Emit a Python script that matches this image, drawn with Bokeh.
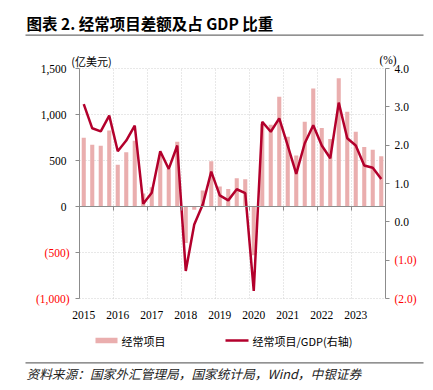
from bokeh.plotting import figure
from bokeh.models import (Range1d, LinearAxis, FixedTicker, Label,
                          NumeralTickFormatter, ColumnDataSource)
from bokeh.embed import file_html
from bokeh.resources import INLINE

# ---------------- data ----------------
years = ["2015", "2016", "2017", "2018", "2019", "2020", "2021", "2022", "2023"]
quarters_per_year = 4
# current account balance, 100 million USD (quarterly, 2015Q1 - 2023Q4)
current_account = [748, 672, 661, 827, 455, 589, 715, 140,
                   210, 560, 410, 704, -397, -36, 173, 491,
                   217, 191, 307, 296, -531, 900, 888, 1192,
                   758, 553, 921, 1282, 852, 733, 1394, 1029,
                   812, 647, 618, 545]
# current account / GDP, % (right axis)
ca_to_gdp = [3.07, 2.44, 2.36, 2.77, 1.84, 2.12, 2.51, 0.47,
             0.76, 1.84, 1.38, 1.99, -1.28, -0.07, 0.45, 1.31,
             0.69, 0.56, 0.85, 0.75, -1.80, 2.61, 2.35, 2.70,
             1.99, 1.25, 2.05, 2.52, 1.99, 1.66, 3.11, 2.18,
             1.99, 1.47, 1.41, 1.12]
left_ticks = [-1000, -500, 0, 500, 1000, 1500]
right_ticks = [-2.0, -1.0, 0.0, 1.0, 2.0, 3.0, 4.0]

title_text = "图表 2. 经常项目差额及占 GDP 比重"
left_unit = "(亿美元)"
right_unit = "(%)"
bar_name = "经常项目"
line_name = "经常项目/GDP(右轴)"
source_text = "资料来源：国家外汇管理局，国家统计局，Wind，中银证券"

# ---------------- layout (page pixels) ----------------
W, H = 433, 390
FL, FR, FT, FB = 79, 385, 68, 298        # plot-area edges
n = len(current_account)
XA, XB = -0.5, n - 0.5                  # data x at FL / FR
YA, YB = left_ticks[0], left_ticks[-1]  # data y at FB / FT
RA, RB = right_ticks[0], right_ticks[-1]
kx = (FR - FL) / (XB - XA)
ky = (FB - FT) / (YB - YA)
kr = (FB - FT) / (RB - RA)

def X(px):
    return XA + (px - FL) / kx

def Y(py):
    return YB - (py - FT) / ky

BAR = "#EAAEAE"
LINE = "#B3002C"
AXIS = "#8C8C8C"
GRID = "#D0D0D0"
RULE = "#6E6E6E"
RED = "#FF0000"
SERIF = "Liberation Serif"
CJK = "Noto Sans CJK SC"
TICK_FS = "11.5px"

x = list(range(n))
src = ColumnDataSource(dict(x=x, ca=current_account, gdp=ca_to_gdp))

p = figure(width=W, height=H, output_backend="svg", toolbar_location=None,
           x_axis_type=None, y_axis_type=None,
           x_range=Range1d(X(0), X(W)), y_range=Range1d(Y(H), Y(0)),
           min_border=0)
p.min_border_left = p.min_border_right = p.min_border_top = p.min_border_bottom = 0
p.outline_line_color = None
p.background_fill_color = "white"
p.border_fill_color = "white"
p.extra_y_ranges = {"r": Range1d(RA - (H - FB) / kr, RB + FT / kr)}

# dotted grid lines (inside the plot area only)
boundaries = [i * quarters_per_year - 0.5 for i in range(1, len(years))]
p.segment(x0=[XA] * len(left_ticks), x1=[XB] * len(left_ticks), y0=left_ticks, y1=left_ticks,
          line_color=GRID, line_dash="1 2", line_width=1)
p.segment(x0=boundaries, x1=boundaries, y0=[YA] * len(boundaries), y1=[YB] * len(boundaries),
          line_color=GRID, line_dash="1 2", line_width=1)

# bars and line
bars = p.vbar(x="x", top="ca", width=0.48, source=src, fill_color=BAR, line_color=None)
line = p.line(x="x", y="gdp", source=src, y_range_name="r", line_color=LINE, line_width=2.5)

def style_axis(ax, tick_out=4, line=True, font=SERIF, color="#000000", standoff=9):
    ax.axis_line_color = AXIS if line else None
    ax.major_tick_line_color = AXIS if line else None
    ax.major_tick_out = tick_out if line else 0
    ax.major_tick_in = 0
    ax.minor_tick_line_color = None
    ax.major_label_standoff = standoff
    ax.major_label_text_font = font
    ax.major_label_text_font_size = TICK_FS
    ax.major_label_text_color = color

# horizontal axis along the zero line (ticks only)
zero_axis = LinearAxis(fixed_location=0, ticker=FixedTicker(ticks=boundaries), bounds=(XA, XB))
zero_axis.major_label_overrides = {b: "" for b in boundaries}
style_axis(zero_axis, standoff=0)
p.add_layout(zero_axis, "below")

# year labels at the bottom
year_ticks = [i * quarters_per_year for i in range(len(years))]
year_axis = LinearAxis(fixed_location=YA, ticker=FixedTicker(ticks=year_ticks), bounds=(XA, XB))
year_axis.major_label_overrides = {t: y for t, y in zip(year_ticks, years)}
style_axis(year_axis, line=False, standoff=12)
p.add_layout(year_axis, "below")

# left axis: black positive labels, red negative labels
left_axis = LinearAxis(fixed_location=XA, ticker=FixedTicker(ticks=left_ticks),
                       formatter=NumeralTickFormatter(format="0,0"), bounds=(YA, YB))
left_axis.major_label_overrides = {t: "" for t in left_ticks if t < 0}
style_axis(left_axis, standoff=9)
p.add_layout(left_axis, "left")

neg_left = [t for t in left_ticks if t < 0]
left_red = LinearAxis(fixed_location=XA, ticker=FixedTicker(ticks=neg_left), bounds=(YA, YB))
left_red.major_label_overrides = {t: "({:,})".format(abs(t)) for t in neg_left}
style_axis(left_red, line=False, color=RED, standoff=10)
p.add_layout(left_red, "left")

# right axis
right_axis = LinearAxis(y_range_name="r", fixed_location=XB, ticker=FixedTicker(ticks=right_ticks),
                        formatter=NumeralTickFormatter(format="0.0"), bounds=(RA, RB))
right_axis.major_label_overrides = {t: "" for t in right_ticks if t < 0}
style_axis(right_axis, standoff=5)
p.add_layout(right_axis, "right")

neg_right = [t for t in right_ticks if t < 0]
right_red = LinearAxis(y_range_name="r", fixed_location=XB, ticker=FixedTicker(ticks=neg_right),
                       bounds=(RA, RB))
right_red.major_label_overrides = {t: "({:.1f})".format(abs(t)) for t in neg_right}
style_axis(right_red, line=False, color=RED, standoff=9)
p.add_layout(right_red, "right")

# unit labels
p.add_layout(Label(x=X(91), y=Y(60), text=left_unit, text_align="center", text_baseline="middle",
                   text_font=CJK, text_font_size="11px", text_color="#000000"))
p.add_layout(Label(x=X(387.5), y=Y(59.5), text=right_unit, text_align="center", text_baseline="middle",
                   text_font=SERIF, text_font_size=TICK_FS, text_color="#000000"))

# title and rules
p.add_layout(Label(x=X(26), y=Y(22), text=title_text, text_align="left", text_baseline="middle",
                   text_font=CJK, text_font_size="15.5px", text_font_style="bold", text_color="#000000"))
p.segment(x0=[X(25), X(25)], x1=[X(423), X(423)], y0=[Y(34.7), Y(362.3)], y1=[Y(34.7), Y(362.3)],
          line_color=RULE, line_width=1.3)
p.add_layout(Label(x=X(26), y=Y(373), text=source_text, text_align="left", text_baseline="middle",
                   text_font=CJK, text_font_size="12.7px", text_font_style="italic",
                   text_color="#222222"))

# legend (drawn in the plot coordinates)
LEG_Y = 340
p.quad(left=[X(95)], right=[X(117)], top=[Y(LEG_Y - 2.7)], bottom=[Y(LEG_Y + 2.7)],
       fill_color=BAR, line_color=None)
p.segment(x0=[X(225)], x1=[X(248)], y0=[Y(LEG_Y)], y1=[Y(LEG_Y)], line_color=LINE, line_width=2.5)
p.add_layout(Label(x=X(121), y=Y(LEG_Y), text=bar_name, text_align="left", text_baseline="middle",
                   text_font=CJK, text_font_size="11px", text_color="#000000"))
p.add_layout(Label(x=X(252), y=Y(LEG_Y), text=line_name, text_align="left", text_baseline="middle",
                   text_font=CJK, text_font_size="11px", text_color="#000000"))

open("out.html", "w").write(file_html(p, INLINE))
